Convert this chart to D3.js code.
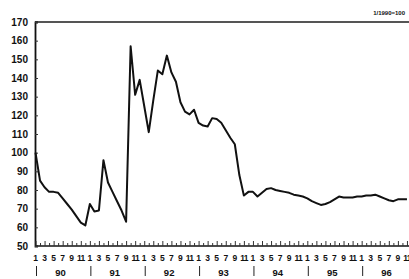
<!DOCTYPE html>
<html>
<head>
<meta charset="utf-8">
<script src="https://cdn.jsdelivr.net/npm/d3@7"></script>
<style>
  body { margin: 0; background: #fff; }
  svg text { font-family: "Liberation Sans", Arial, sans-serif; font-weight: bold; fill: #111; }
</style>
</head>
<body>
<svg id="chart" width="409" height="279"></svg>
<script>
// monthly index, 1/1990 = 100, from Jan 1990
var values = [100, 85, 81.5, 79, 79, 78.5, 75.5, 72.5, 69.5, 66, 62.5, 61,
  72.5, 68.5, 69, 96, 84, 79, 74, 69, 63, 157, 131, 139,
  125, 111, 128, 144, 142, 152, 143, 138, 127, 122, 120.5, 123,
  116, 114.5, 114, 118.5, 118, 116, 112, 108, 104.5, 88, 77, 79,
  79, 76.5, 78.5, 80.5, 81, 80, 79.5, 79, 78.5, 77.5, 77, 76.5,
  75.5, 74, 73, 72, 72.5, 73.5, 75, 76.5, 76, 76, 76, 76.5,
  76.5, 77, 77, 77.5, 76.5, 75.5, 74.5, 74, 75, 75, 75];
var years = ["90", "91", "92", "93", "94", "95", "96"];
var monthLabels = ["1", "3", "5", "7", "9", "11"];
var yTicks = [50, 60, 70, 80, 90, 100, 110, 120, 130, 140, 150, 160, 170];
var baseNote = "1/1990=100";

var svg = d3.select("#chart");
var W = 409;
var padLeft = 35, padTop = 22, axisY = 246;
var pxMonth = 4.53;

var x = d3.scaleLinear().domain([0, 82]).range([padLeft + 0.5, padLeft + 0.5 + 82 * pxMonth]);
var y = d3.scaleLinear().domain([50, 170]).range([axisY, padTop]);

// frame
svg.append("line").attr("x1", padLeft).attr("x2", W).attr("y1", padTop).attr("y2", padTop)
  .attr("stroke", "#555").attr("stroke-width", 2);
svg.append("line").attr("x1", padLeft).attr("x2", W).attr("y1", axisY).attr("y2", axisY)
  .attr("stroke", "#111").attr("stroke-width", 1.5);

// y axis
var yAxis = d3.axisRight(y).tickValues(yTicks).tickSize(3).tickFormat("");
var gy = svg.append("g").attr("transform", "translate(" + padLeft + ",0)").call(yAxis);
gy.select(".domain").attr("stroke", "#111").attr("stroke-width", 1.8);
gy.selectAll(".tick line").attr("stroke", "#333");
svg.selectAll(".ylab").data(yTicks).enter().append("text")
  .attr("class", "ylab")
  .attr("x", 28).attr("y", function (d) { return y(d); })
  .attr("dy", "0.36em").attr("text-anchor", "end")
  .attr("font-size", 10)
  .text(function (d) { return d; });

// x axis: month ticks
var months = d3.range(0, 83);
var xAxis = d3.axisTop(x).tickValues(months).tickSize(4).tickFormat("");
var gx = svg.append("g").attr("transform", "translate(0," + axisY + ")").call(xAxis);
gx.select(".domain").remove();
gx.selectAll(".tick line").attr("stroke", "#333").attr("y2", function (d) { return d % 2 ? -3 : -5; });

svg.selectAll(".mlab").data(months.filter(function (m) { return m % 2 === 0; })).enter().append("text")
  .attr("class", "mlab")
  .attr("x", function (m) { return x(m); }).attr("y", 261)
  .attr("text-anchor", "middle").attr("font-size", 8.5)
  .attr("letter-spacing", function (m) { return m % 12 === 10 ? -0.8 : 0; })
  .text(function (m) { return monthLabels[(m % 12) / 2]; });

years.forEach(function (yr, i) {
  svg.append("line").attr("x1", x(i * 12) + 1).attr("x2", x(i * 12) + 1)
    .attr("y1", 266).attr("y2", 276).attr("stroke", "#222").attr("stroke-width", 1);
  svg.append("text").attr("x", x(i * 12 + 5.5)).attr("y", 276)
    .attr("text-anchor", "middle").attr("font-size", 9.5).text(yr);
});

// note
svg.append("text").attr("x", 405).attr("y", 15).attr("text-anchor", "end")
  .attr("font-size", 6).text(baseNote);

// series line
var line = d3.line()
  .x(function (d, i) { return x(i); })
  .y(function (d) { return y(d); });
svg.append("path").datum(values)
  .attr("d", line).attr("fill", "none")
  .attr("stroke", "#111").attr("stroke-width", 2).attr("stroke-linejoin", "round");
</script>
</body>
</html>
